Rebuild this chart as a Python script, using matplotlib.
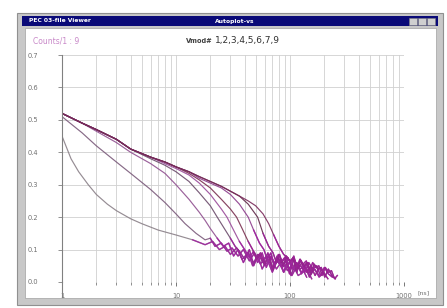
import matplotlib
matplotlib.use("Agg")
import matplotlib.pyplot as plt
from matplotlib.patches import Rectangle
from matplotlib.ticker import FixedLocator, LogLocator, NullFormatter

# ---- data (time in ns, value) ----
t_v1 = [1, 1.2, 1.4, 1.7, 2, 2.5, 3, 4, 5, 7, 10, 14, 18, 21, 24, 27, 30, 34, 38, 43, 48, 54, 60, 68, 76, 85, 95, 105, 118, 130]
v_v1 = [0.45, 0.38, 0.34, 0.30, 0.27, 0.24, 0.22, 0.195, 0.18, 0.16, 0.145, 0.13, 0.115, 0.125, 0.10, 0.11, 0.085, 0.105, 0.07, 0.09, 0.06, 0.085, 0.05, 0.075, 0.04, 0.065, 0.035, 0.055, 0.02, 0.03]

t_v2 = [1, 1.5, 2, 3, 4, 6, 8, 10, 12, 15, 18, 20, 22, 25, 28, 31, 35, 39, 44, 49, 55, 62, 70, 78, 88, 98, 110, 125, 140]
v_v2 = [0.51, 0.46, 0.42, 0.37, 0.335, 0.285, 0.245, 0.21, 0.18, 0.15, 0.13, 0.135, 0.11, 0.12, 0.095, 0.105, 0.08, 0.10, 0.065, 0.09, 0.055, 0.08, 0.045, 0.07, 0.03, 0.06, 0.035, 0.05, 0.015]

t_v3 = [1, 1.5, 2, 3, 4, 6, 8, 10, 13, 16, 18, 20, 23, 26,
        29, 32, 35, 39, 43, 47, 52, 57, 63, 70, 77, 85, 94, 104, 115, 127, 140, 155]
v_v3 = [0.52, 0.49, 0.465, 0.43, 0.40, 0.365, 0.335, 0.30, 0.255, 0.215, 0.19, 0.165, 0.135, 0.11,
        0.12, 0.08, 0.10, 0.06, 0.09, 0.05, 0.085, 0.04, 0.07, 0.03, 0.065, 0.045, 0.055, 0.02, 0.05, 0.03, 0.04, 0.01]

t_v4 = [1, 1.5, 2, 3, 4, 6, 8, 10, 13, 16, 20, 23, 26, 30,
        33, 36, 40, 44, 48, 53, 58, 64, 70, 77, 85, 93, 102, 112, 123, 135, 148, 163, 180]
v_v4 = [0.52, 0.49, 0.47, 0.44, 0.41, 0.38, 0.36, 0.34, 0.31, 0.275, 0.235, 0.20, 0.17, 0.135,
        0.11, 0.095, 0.07, 0.10, 0.05, 0.085, 0.06, 0.09, 0.035, 0.075, 0.05, 0.065, 0.02, 0.06, 0.04, 0.05, 0.015, 0.04, 0.02]

t_v5 = [1, 1.5, 2, 3, 4, 6, 8, 10, 13, 16, 20, 25, 28, 32, 36,
        40, 44, 48, 52, 57, 62, 68, 74, 81, 88, 96, 105, 115, 126, 138, 150, 165, 180, 198]
v_v5 = [0.52, 0.49, 0.47, 0.44, 0.41, 0.385, 0.365, 0.35, 0.33, 0.305, 0.27, 0.225, 0.20, 0.16, 0.125,
        0.10, 0.075, 0.095, 0.06, 0.09, 0.045, 0.08, 0.055, 0.07, 0.03, 0.075, 0.04, 0.06, 0.025, 0.055, 0.035, 0.04, 0.015, 0.03]

t_v6 = [1, 1.5, 2, 3, 4, 6, 8, 10, 13, 16, 20, 25, 30, 34, 38, 43,
        47, 51, 55, 60, 65, 71, 77, 84, 91, 99, 108, 118, 128, 140, 152, 166, 181, 197, 215]
v_v6 = [0.52, 0.49, 0.47, 0.44, 0.41, 0.385, 0.37, 0.355, 0.335, 0.315, 0.29, 0.255, 0.225, 0.20, 0.165, 0.125,
        0.10, 0.07, 0.09, 0.055, 0.085, 0.04, 0.08, 0.06, 0.075, 0.025, 0.07, 0.045, 0.06, 0.03, 0.05, 0.02, 0.045, 0.03, 0.01]

t_v7 = [1, 1.5, 2, 3, 4, 6, 8, 10, 13, 16, 20, 25, 30, 36, 43, 48, 54,
        59, 63, 68, 73, 79, 85, 92, 99, 107, 116, 125, 135, 146, 158, 171, 185, 200, 217, 235]
v_v7 = [0.52, 0.49, 0.47, 0.44, 0.41, 0.385, 0.37, 0.355, 0.34, 0.32, 0.305, 0.29, 0.27, 0.24, 0.20, 0.16, 0.12,
        0.10, 0.07, 0.09, 0.05, 0.085, 0.065, 0.08, 0.035, 0.075, 0.05, 0.065, 0.03, 0.06, 0.04, 0.05, 0.02, 0.045, 0.025, 0.015]

t_v8 = [1, 1.5, 2, 3, 4, 6, 8, 10, 13, 16, 20, 25, 30, 36, 43, 52, 58, 65,
        71, 76, 81, 87, 93, 100, 107, 115, 123, 132, 142, 152, 163, 175, 188, 202, 217, 233, 250]
v_v8 = [0.52, 0.49, 0.47, 0.44, 0.41, 0.385, 0.37, 0.355, 0.34, 0.325, 0.31, 0.295, 0.28, 0.265, 0.24, 0.20, 0.15, 0.11,
        0.09, 0.06, 0.085, 0.05, 0.08, 0.065, 0.075, 0.03, 0.07, 0.05, 0.06, 0.025, 0.055, 0.04, 0.045, 0.015, 0.04, 0.02, 0.01]

t_v9 = [1, 1.5, 2, 3, 4, 6, 8, 10, 13, 16, 20, 25, 30, 36, 43, 50, 58, 65, 72, 80, 88,
        95, 101, 108, 115, 122, 130, 139, 148, 158, 168, 179, 191, 204, 217, 231, 246, 260]
v_v9 = [0.52, 0.49, 0.47, 0.44, 0.41, 0.385, 0.37, 0.355, 0.34, 0.325, 0.31, 0.295, 0.28, 0.265, 0.25, 0.235, 0.21, 0.18, 0.145, 0.11, 0.085,
        0.075, 0.06, 0.08, 0.045, 0.07, 0.055, 0.065, 0.03, 0.06, 0.045, 0.05, 0.02, 0.045, 0.03, 0.035, 0.01, 0.02]

curves_t = [t_v1, t_v2, t_v3, t_v4, t_v5, t_v6, t_v7, t_v8, t_v9]
curves_v = [v_v1, v_v2, v_v3, v_v4, v_v5, v_v6, v_v7, v_v8, v_v9]
colors = ['#8a8088', '#7a5a7a', '#905090', '#6c4c6c', '#9a4a9a', '#7a3050', '#8c3c8c', '#602848', '#7a2a5a']
noise_color = '#a020a0'

y_ticks = [0.0, 0.1, 0.2, 0.3, 0.4, 0.5, 0.6, 0.7]
x_ticks = [1, 10, 100, 1000]
x_labels = ['1', '10', '100', '1000']

W, H = 447, 308
fig = plt.figure(figsize=(W / 100, H / 100), dpi=100)
fig.patch.set_facecolor('white')


def box(x, y, w, h, **kw):
    # rectangle given in screen pixels (top-left origin), kept behind the axes
    fig.patches.append(Rectangle((x / W, 1 - (y + h) / H), w / W, h / H,
                                 transform=fig.transFigure, zorder=-5, **kw))


def label(x, y, s, **kw):
    fig.text(x / W, 1 - y / H, s, **kw)


# window frame
box(17, 13, 426, 292, facecolor='#c8c8c8', edgecolor='#909090', lw=0.8)
box(22, 16, 416, 10, facecolor='#0a0a78', edgecolor='none')
for bx in [409, 418, 427]:
    box(bx, 17.5, 8, 7, facecolor='#d0d0d0', edgecolor='#808080', lw=0.4)
box(25, 28, 411, 270, facecolor='white', edgecolor='#a0a0a0', lw=0.5)

label(29, 21, 'PEC 03-file Viewer', color='white', fontsize=4.3, fontweight='bold', va='center')
label(235, 21, 'Autoplot-vs', color='white', fontsize=4.3, fontweight='bold', va='center', ha='center')
label(33, 41, 'Counts/1 : 9', color='#c888c8', fontsize=5.5, va='center')
label(186, 41, 'Vmod#', color='#404040', fontsize=4.8, fontweight='bold', va='center')
label(215, 41, '1,2,3,4,5,6,7,9', color='#303030', fontsize=6.5, va='center')
label(418, 293, '[ns]', color='#707070', fontsize=4.5, va='center')

# plot area
ax = fig.add_axes([62 / W, 26 / H, 342 / W, 227 / H])
ax.set_facecolor('none')
for t, v, c in zip(curves_t, curves_v, colors):
    ax.plot(t, v, color=c, lw=0.85, alpha=0.9)
    # the noisy tail near the floor shows up in bright purple
    i = next(k for k, val in enumerate(v) if val < 0.125)
    ax.plot(t[i - 1:], v[i - 1:], color=noise_color, lw=1.0, alpha=0.85)

ax.set_xscale('log')
ax.set_xlim(1, 1000)
ax.set_ylim(0, 0.7)
ax.xaxis.set_major_locator(FixedLocator(x_ticks))
ax.set_xticklabels(x_labels)
ax.xaxis.set_minor_locator(LogLocator(base=10, subs=range(2, 10)))
ax.xaxis.set_minor_formatter(NullFormatter())
ax.set_yticks(y_ticks)
ax.set_yticklabels(['%.1f' % y for y in y_ticks])

ax.grid(True, which='both', axis='x', color='#d0d0d0', lw=0.6)
ax.grid(True, which='major', axis='y', color='#d0d0d0', lw=0.6)
ax.set_axisbelow(True)

for s in ['top', 'right', 'bottom']:
    ax.spines[s].set_visible(False)
ax.spines['left'].set_color('#808080')
ax.spines['left'].set_linewidth(0.8)
ax.plot([0, 0], [-0.065, 0], transform=ax.transAxes, color='#808080', lw=0.8, clip_on=False)

ax.tick_params(axis='y', length=3, width=0.6, color='#808080', labelsize=4.8,
               labelcolor='#707070', pad=14)
ax.tick_params(axis='x', which='major', length=3, width=0.6, color='#606060',
               labelsize=4.8, labelcolor='#707070', pad=5)
ax.tick_params(axis='x', which='minor', length=2, width=0.5, color='#606060')

fig.savefig('out.png', dpi=100)
